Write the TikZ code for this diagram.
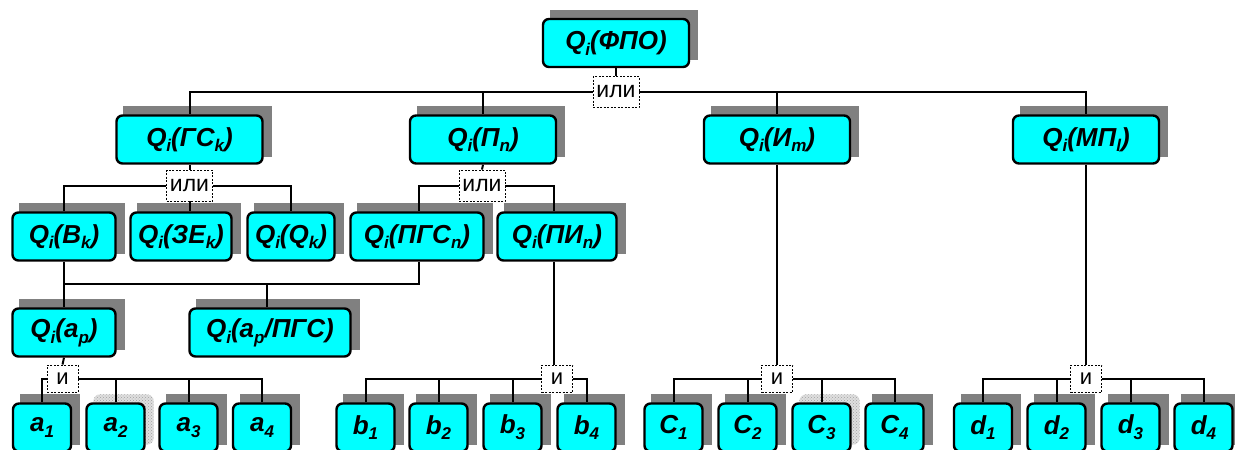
\documentclass[tikz,border=0pt]{standalone}
\usepackage{fontspec}
\setmainfont{Liberation Sans}
\usetikzlibrary{backgrounds,patterns,calc}
\newcommand\subtx[1]{\raisebox{-0.22em}{\fontsize{17}{17}\selectfont #1}}
\definecolor{boxc}{RGB}{0,255,255}
\definecolor{shadc}{RGB}{128,128,128}
\tikzset{
 bx/.style={draw=black, line width=2.4pt, fill=boxc, rounded corners=6pt, minimum height=48pt, inner sep=0pt, font=\fontsize{26}{28}\selectfont\bfseries\itshape},
 orbox/.style={draw=black, dash pattern=on 2pt off 1.5pt, line width=0.9pt, fill=white, minimum width=46pt, minimum height=31pt, inner sep=0pt, font=\fontsize{23}{25}\selectfont},
 andbox/.style={orbox, minimum width=31pt, minimum height=27pt, font=\fontsize{22}{24}\selectfont},
 ln/.style={line width=2pt},
 shd/.style={fill=shadc},
 hshd/.style={fill=gray!25, rounded corners=7pt, postaction={pattern=crosshatch dots, pattern color=gray!75}}
}
\begin{document}
\begin{tikzpicture}[x=1pt,y=-1pt]
\useasboundingbox (0,0) rectangle (1235,450);
% level 1
\node[bx, minimum width=146pt] (top) at (616,43) {Q\subtx{i}(ФПО)};
\node[orbox] (o0) at (616,92) {или};
% level 2
\node[bx, minimum width=146pt] (gs) at (189.5,139.5) {Q\subtx{i}(ГС\subtx{k})};
\node[bx, minimum width=146pt] (pn) at (483,139.5) {Q\subtx{i}(П\subtx{n})};
\node[bx, minimum width=146pt] (im) at (777,139.5) {Q\subtx{i}(И\subtx{m})};
\node[bx, minimum width=146pt] (mp) at (1086,139.5) {Q\subtx{i}(МП\subtx{l})};
\node[orbox] (o1) at (189.5,185.5) {или};
\node[orbox] (o2) at (482,185.5) {или};
% level 3
\node[bx, minimum width=103pt] (bk) at (64,236.5) {Q\subtx{i}(B\subtx{k})};
\node[bx, minimum width=101pt] (ze) at (181,236.5) {Q\subtx{i}(ЗЕ\subtx{k})};
\node[bx, minimum width=87pt] (qk) at (291,236.5) {Q\subtx{i}(Q\subtx{k})};
\node[bx, minimum width=133pt] (pgs) at (417,236.5) {Q\subtx{i}(ПГС\subtx{n})};
\node[bx, minimum width=119pt] (pi) at (557,236.5) {Q\subtx{i}(ПИ\subtx{n})};
% level 4
\node[bx, minimum width=103pt] (ap) at (64,332.5) {Q\subtx{i}(a\subtx{p})};
\node[bx, minimum width=161pt] (apg) at (270,332.5) {Q\subtx{i}(a\subtx{p}/ПГС)};
\coordinate (j1) at (64,284);
% and boxes
\node[andbox] (ia) at (62.5,378.5) {и};
\node[andbox] (ib) at (557,378.5) {и};
\node[andbox] (ic) at (777,378.5) {и};
\node[andbox] (id) at (1086,378.5) {и};
% bottom row
\foreach \nm/\x/\t in {a1/42/a\subtx{1}, a2/115.5/a\subtx{2}, a3/188.5/a\subtx{3}, a4/262/a\subtx{4},
  b1/365.5/b\subtx{1}, b2/438.5/b\subtx{2}, b3/512.5/b\subtx{3}, b4/586.5/b\subtx{4},
  c1/673.5/C\subtx{1}, c2/747.5/C\subtx{2}, c3/821.5/C\subtx{3}, c4/894.5/C\subtx{4},
  d1/983/d\subtx{1}, d2/1056.5/d\subtx{2}, d3/1130.5/d\subtx{3}, d4/1203.5/d\subtx{4}}
  {\node[bx, minimum width=58pt] (\nm) at (\x,427.5) {\t};}
% shadows
\begin{scope}[on background layer]
\foreach \n in {top,gs,pn,im,mp,bk,ze,qk,pgs,pi,ap,apg,a1,a3,a4,b1,b2,b3,b4,c1,c2,c4,d1,d2,d3,d4}
  {\fill[shd] ($(\n.south west)+(8,-8)$) rectangle ($(\n.north east)+(8,-8)$);}
\foreach \n in {a2,c3}
  {\path[hshd] ($(\n.south west)+(8,-8)$) rectangle ($(\n.north east)+(8,-8)$);}
\end{scope}
% connectors
\draw[ln] (top.south) -- (o0.north);
\draw[ln] (o0.west) -| (gs.north);
\draw[ln] (pn.north) -- (pn.north |- o0.west);
\draw[ln] (o0.east) -| (mp.north);
\draw[ln] (im.north) -- (im.north |- o0.east);
\draw[ln] (gs.south) -- (o1.north);
\draw[ln] (o1.west) -| (bk.north);
\draw[ln] (o1.south) -- (o1.south |- ze.north);
\draw[ln] (o1.east) -| (qk.north);
\draw[ln] (pn.south) -- (o2.north);
\draw[ln] (o2.west) -| ([xshift=2pt]pgs.north);
\draw[ln] (o2.east) -| ([xshift=-3pt]pi.north);
\draw[ln] (bk.south) -- (ap.north);
\draw[ln] ([xshift=2pt]pgs.south) |- (j1);
\draw[ln] ([xshift=-3pt]apg.north) -- ([xshift=-3pt]apg.north |- j1);
\draw[ln] (ap.south) -- (ia.north);
\draw[ln] (ia.west) -| (a1.north);
\draw[ln] (ia.east) -| (a4.north);
\draw[ln] (a2.north) -- (a2.north |- ia.east);
\draw[ln] (a3.north) -- (a3.north |- ia.east);
\draw[ln] ([xshift=-3pt]pi.south) -- ([xshift=-3pt]pi.south |- ib.north);
\draw[ln] (ib.west) -| (b1.north);
\draw[ln] (ib.east) -| (b4.north);
\draw[ln] (b2.north) -- (b2.north |- ib.west);
\draw[ln] (b3.north) -- (b3.north |- ib.west);
\draw[ln] (im.south) -- (ic.north);
\draw[ln] (ic.west) -| (c1.north);
\draw[ln] (ic.east) -| (c4.north);
\draw[ln] (c2.north) -- (c2.north |- ic.west);
\draw[ln] (c3.north) -- (c3.north |- ic.east);
\draw[ln] (mp.south) -- (id.north);
\draw[ln] (id.west) -| (d1.north);
\draw[ln] (id.east) -| (d4.north);
\draw[ln] (d2.north) -- (d2.north |- id.west);
\draw[ln] (d3.north) -- (d3.north |- id.east);
\end{tikzpicture}
\end{document}
